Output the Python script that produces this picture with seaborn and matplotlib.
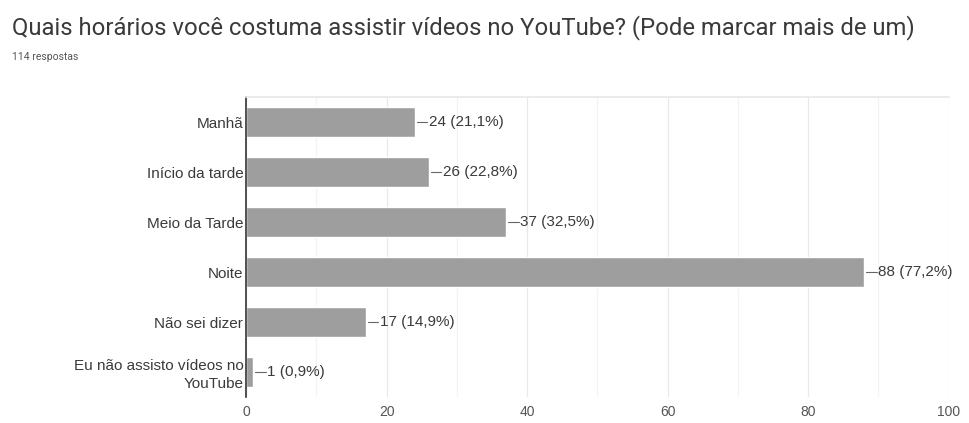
import matplotlib
matplotlib.use("Agg")
import matplotlib.pyplot as plt
import seaborn as sns
import pandas as pd

categories = ["Manhã", "Início da tarde", "Meio da Tarde", "Noite", "Não sei dizer",
              "Eu não assisto vídeos no\nYouTube"]
counts = [24, 26, 37, 88, 17, 1]
labels = ["24 (21,1%)", "26 (22,8%)", "37 (32,5%)", "88 (77,2%)", "17 (14,9%)", "1 (0,9%)"]
xticks = [0, 20, 40, 60, 80, 100]

df = pd.DataFrame({"cat": categories, "n": counts})

sns.set_theme(style="white")
plt.rcParams['font.family'] = ['Liberation Sans', 'DejaVu Sans']

fig = plt.figure(figsize=(9.69, 4.23), dpi=100)
ax = fig.add_axes([0.254, 0.0615, 0.725, 0.709])

sns.barplot(data=df, y="cat", x="n", color="#9e9e9e", saturation=1, width=0.6, ax=ax, orient="h")

ax.set_xlim(0, 100)
ax.set_ylim(5.5, -0.5)
ax.set_xticks(xticks)
ax.set_xticks(range(10, 100, 20), minor=True)
ax.grid(axis="x", which="major", color="#e8e8e8", linewidth=0.9)
ax.grid(axis="x", which="minor", color="#f3f3f3", linewidth=0.9)
ax.set_axisbelow(True)
ax.set_xlabel("")
ax.set_ylabel("")
for s in ["right", "bottom"]:
    ax.spines[s].set_visible(False)
ax.spines["top"].set_color("#e8e8e8")
ax.spines["left"].set_color("#333333")
ax.spines["left"].set_linewidth(1.2)
ax.tick_params(axis="x", length=0, labelsize=10, labelcolor="#555555", pad=6)
ax.tick_params(axis="y", length=0, labelsize=11, labelcolor="#3a3a3a", pad=2)
for t in ax.get_yticklabels():
    t.set_linespacing(1.3)

for i, (v, lab) in enumerate(zip(counts, labels)):
    ax.plot([v + 0.3, v + 1.8], [i, i], color="#666666", linewidth=0.8)
    ax.text(v + 2.0, i, lab, va="center", ha="left", fontsize=11, color="#3a3a3a")

fig.text(0.0125, 0.934, "Quais horários você costuma assistir vídeos no YouTube? (Pode marcar mais de um)",
         fontsize=17.2, color="#3a3a3a", family=["Roboto", "DejaVu Sans"], va="center")
fig.text(0.0125, 0.865, "114 respostas", fontsize=7.5, color="#555555",
         family=["Roboto", "DejaVu Sans"], va="center")

fig.savefig("out.png", dpi=100)
